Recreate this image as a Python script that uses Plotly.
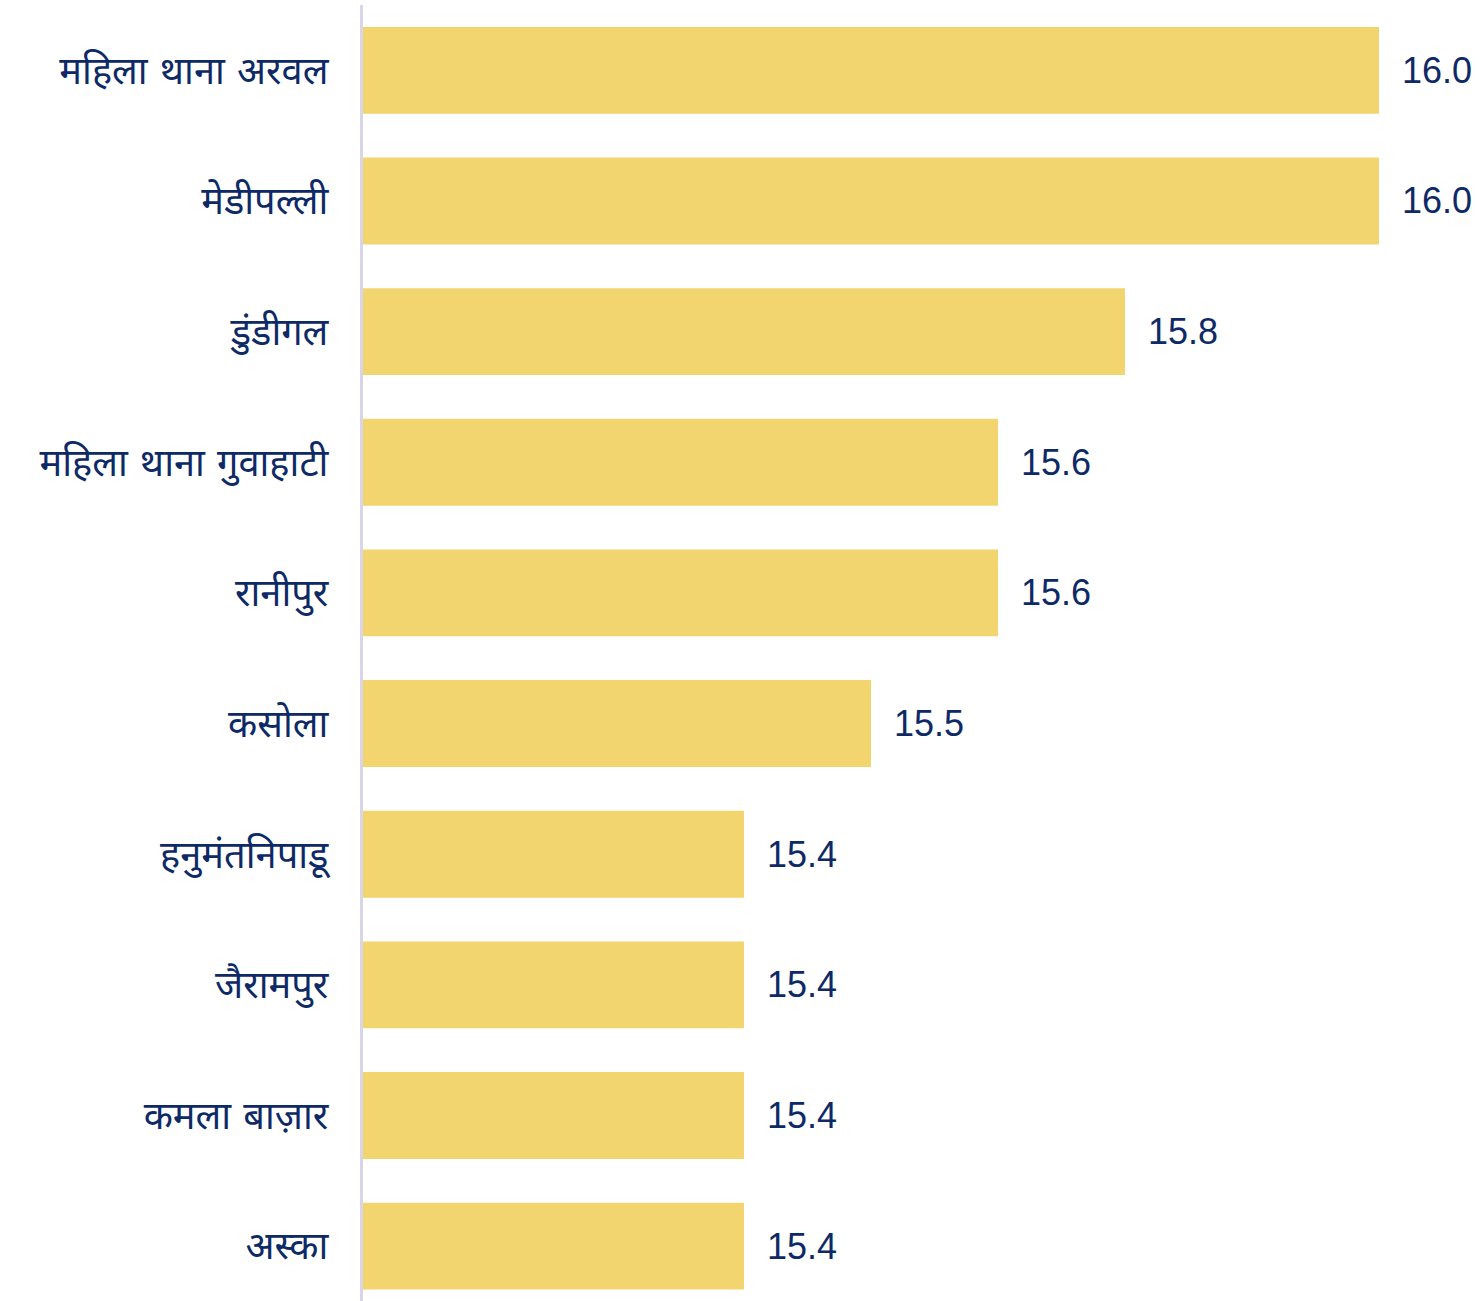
import plotly.graph_objects as go

categories = ["महिला थाना अरवल", "मेडीपल्ली", "डुंडीगल", "महिला थाना गुवाहाटी", "रानीपुर",
              "कसोला", "हनुमंतनिपाडू", "जैरामपुर", "कमला बाज़ार", "अस्का"]
values = [16.0, 16.0, 15.75, 15.625, 15.625, 15.5, 15.375, 15.375, 15.375, 15.375]
value_labels = ["16.0", "16.0", "15.8", "15.6", "15.6", "15.5", "15.4", "15.4", "15.4", "15.4"]

BAR = "#F2D56E"
NAVY = "#0E2A66"
AXIS_MIN = 15.0

fig = go.Figure()
fig.add_trace(go.Bar(
    x=[v - AXIS_MIN for v in values], y=categories, orientation="h",
    base=AXIS_MIN,
    marker=dict(color=BAR, line=dict(width=0)),
    hoverinfo="skip",
))

for c, v, t in zip(categories, values, value_labels):
    fig.add_annotation(x=v, y=c, text=t, xref="x", yref="y", showarrow=False,
                       xanchor="left", yanchor="middle", xshift=21,
                       font=dict(family="Arial", size=36, color=NAVY))

fig.update_layout(
    width=1481, height=1301,
    margin=dict(l=363, r=102, t=5, b=0),
    paper_bgcolor="white", plot_bgcolor="white",
    bargap=0.335, showlegend=False,
    font=dict(family="Arial", color=NAVY),
)
fig.update_xaxes(range=[AXIS_MIN, 16.0], showgrid=False, zeroline=False, showticklabels=False,
                 showline=False)
fig.update_yaxes(categoryorder="array", categoryarray=categories,
                 range=[9.42, -0.5], showgrid=False, zeroline=False, automargin=False,
                 showline=True, linecolor="#D8D6E6", linewidth=3,
                 ticks="", ticklabelstandoff=24,
                 tickfont=dict(family="DejaVu Sans, Noto Sans Devanagari", size=38, color=NAVY))

fig.write_html("out.html")
